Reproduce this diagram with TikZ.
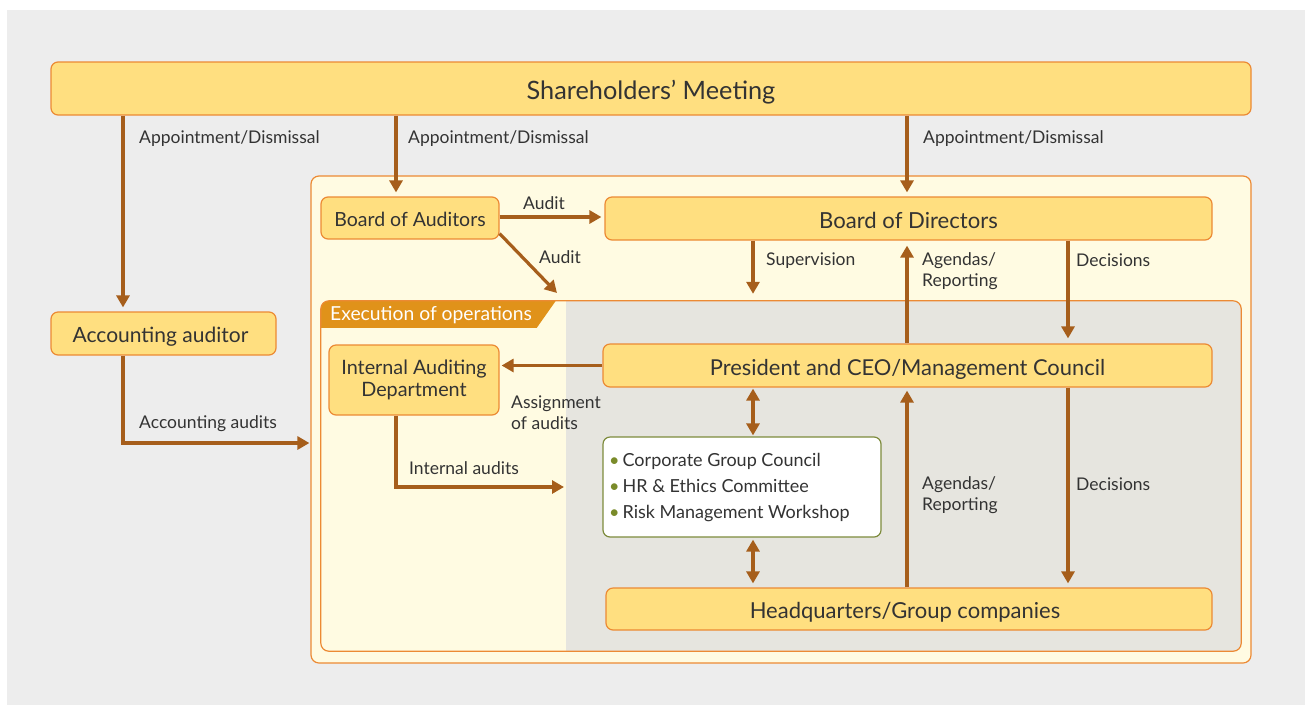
\documentclass[tikz,border=0pt]{standalone}
\usepackage{fontspec}
\setmainfont{Lato}
\usetikzlibrary{arrows.meta}
\definecolor{pagegray}{HTML}{EDEDED}
\definecolor{boxfill}{HTML}{FFDF80}
\definecolor{boxline}{HTML}{EC8A34}
\definecolor{panelfill}{HTML}{FFFBE2}
\definecolor{opsgray}{HTML}{E6E5DF}
\definecolor{tabfill}{HTML}{E0921A}
\definecolor{arrowc}{HTML}{A65E1B}
\definecolor{ink}{HTML}{333333}
\definecolor{olive}{HTML}{7D8B3C}
\definecolor{dot}{HTML}{7A8B2A}

\begin{document}
\begin{tikzpicture}[x=1pt,y=-1pt,>={Triangle[length=12pt,width=13pt]},
	box/.style={draw=boxline,fill=boxfill,line width=1.2pt,rounded corners=7pt,text=ink,inner sep=0pt,align=center,text height=19pt,text depth=0pt},
	arr/.style={->,draw=arrowc,line width=3.2pt},
	twoway/.style={<->,draw=arrowc,line width=3.2pt},
	lbl/.style={anchor=west,text=ink,font=\fontsize{17.5}{21}\selectfont,align=left,inner sep=0pt}]
	\useasboundingbox (0,0) rectangle (1305,705);
	\fill[pagegray] (7,10) rectangle (1305,705);
	\node[box,minimum width=1200pt,minimum height=53pt,text height=21pt,font=\fontsize{25.3}{30}\selectfont] (share)at(651,88.5) {Shareholders’ Meeting};
	\node[draw=boxline,fill=panelfill,line width=1.2pt,rounded corners=8pt,minimum width=940pt,minimum height=487pt] (corp)at(781,419.5) {};
	\node[fill=panelfill,rounded corners=8pt,minimum width=920pt,minimum height=350pt] (ops)at(781,476) {};
	\begin{scope}
		\clip[rounded corners=8pt] (ops.north west) rectangle (ops.south east);
		\fill[opsgray] (566,301) rectangle (ops.south east);
		\fill[tabfill] (ops.north west) -- ++(235,0) -- ++(-19,27) -- ++(-216,0) -- cycle;
	\end{scope}
	\draw[boxline,line width=1.2pt,rounded corners=8pt] (ops.north west) rectangle (ops.south east);
	\node[anchor=west,text=white,inner sep=0pt,font=\fontsize{19.3}{23}\selectfont] (tab)at(330,315.5) {Execution of operations};
	\node[box,minimum width=178pt,minimum height=42pt,text height=17pt,font=\fontsize{19.5}{23}\selectfont] (boa)at(410,218) {Board of Auditors};
	\node[box,minimum width=607pt,minimum height=43pt,font=\fontsize{22.1}{26}\selectfont] (bod)at(908.5,218.5) {Board of Directors};
	\node[box,minimum width=225pt,minimum height=43pt,text height=18pt,font=\fontsize{21}{25}\selectfont] (acc)at(163.5,333.5) {\hspace*{-6pt}Accounting auditor};
	\node[box,minimum width=170pt,minimum height=70pt,text height=,text depth=,font=\fontsize{19.8}{21.5}\selectfont] (iad)at(414,380) {Internal Auditing\\Department};
	\node[box,minimum width=609pt,minimum height=43pt,font=\fontsize{21.9}{26}\selectfont] (pres)at(907.5,365.5) {President and CEO/Management Council};
	\node[draw=olive,fill=white,line width=1.2pt,rounded corners=7pt,minimum width=278pt,minimum height=100pt] (council)at(742,487) {};
	\node[anchor=west,text=ink,align=left,inner sep=0pt,font=\fontsize{18}{26}\selectfont] (meetings)at(609,488) {\textcolor{dot}{\textbullet}\,Corporate Group Council\\\textcolor{dot}{\textbullet}\,HR \& Ethics Committee\\\textcolor{dot}{\textbullet}\,Risk Management Workshop};
	\node[box,minimum width=606pt,minimum height=42pt,font=\fontsize{22}{26}\selectfont] (hq)at(909,609) {\hspace*{-8pt}Headquarters/Group companies};
	\coordinate (xa)at(123,0);
	\coordinate (xb)at(396,0);
	\coordinate (xc)at(907,0);
	\coordinate (xs)at(753,0);
	\coordinate (xd)at(1068,0);
	\coordinate (yacc)at(0,443);
	\coordinate (audtip)at(557,293);
	\coordinate (iatip)at(564,487);
	\draw[arr,shorten >=4pt] (share.south -| xa) -- (acc.north -| xa);
	\draw[arr,shorten >=4pt] (share.south -| xb) -- (boa.north -| xb);
	\draw[arr,shorten >=4pt] (share.south -| xc) -- (bod.north -| xc);
	\draw[arr,shorten >=3pt] ([yshift=1pt]boa.east) -- ([yshift=1pt]boa.east -| bod.west);
	\draw[arr] ([yshift=6pt]boa.south east) -- (audtip);
	\draw[arr,shorten >=7pt] (bod.south -| xs) -- (ops.north -| xs);
	\draw[arr,shorten >=5pt] (pres.north -| xc) -- (bod.south -| xc);
	\draw[arr,shorten >=5pt] (bod.south -| xd) -- (pres.north -| xd);
	\draw[arr,shorten >=1pt] (acc.south -| xa) |- (corp.west |- yacc);
	\draw[arr,shorten >=2pt] (pres.west) -- (pres.west -| iad.east);
	\draw[arr] (iad.south -| xb) |- (iatip);
	\draw[twoway,shorten <=1pt,shorten >=1pt] (pres.south -| xs) -- (council.north -| xs);
	\draw[twoway,shorten <=2pt,shorten >=4pt] (council.south -| xs) -- (hq.north -| xs);
	\draw[arr,shorten >=3pt] (hq.north -| xc) -- (pres.south -| xc);
	\draw[arr,shorten >=4pt] (pres.south -| xd) -- (hq.north -| xd);
	\node[lbl] (appoint1)at(139,138.5) {Appointment/Dismissal};
	\node[lbl] (appoint2)at(408,138.5) {Appointment/Dismissal};
	\node[lbl] (appoint3)at(923,138.5) {Appointment/Dismissal};
	\node[lbl] (audit1)at(523,203) {Audit};
	\node[lbl] (audit2)at(539,257) {Audit};
	\node[lbl] (supervision)at(766,260.5) {Supervision};
	\node[lbl] (agendas1)at(922,271) {Agendas/\\Reporting};
	\node[lbl] (decisions1)at(1076,260) {Decisions};
	\node[lbl] (accaudits)at(139,423.5) {Accounting audits};
	\node[lbl] (assign)at(511,413) {Assignment\\of audits};
	\node[lbl] (intaudits)at(409,468.5) {Internal audits};
	\node[lbl] (agendas2)at(922,495) {Agendas/\\Reporting};
	\node[lbl] (decisions2)at(1076,484) {Decisions};
\end{tikzpicture}
\end{document}
